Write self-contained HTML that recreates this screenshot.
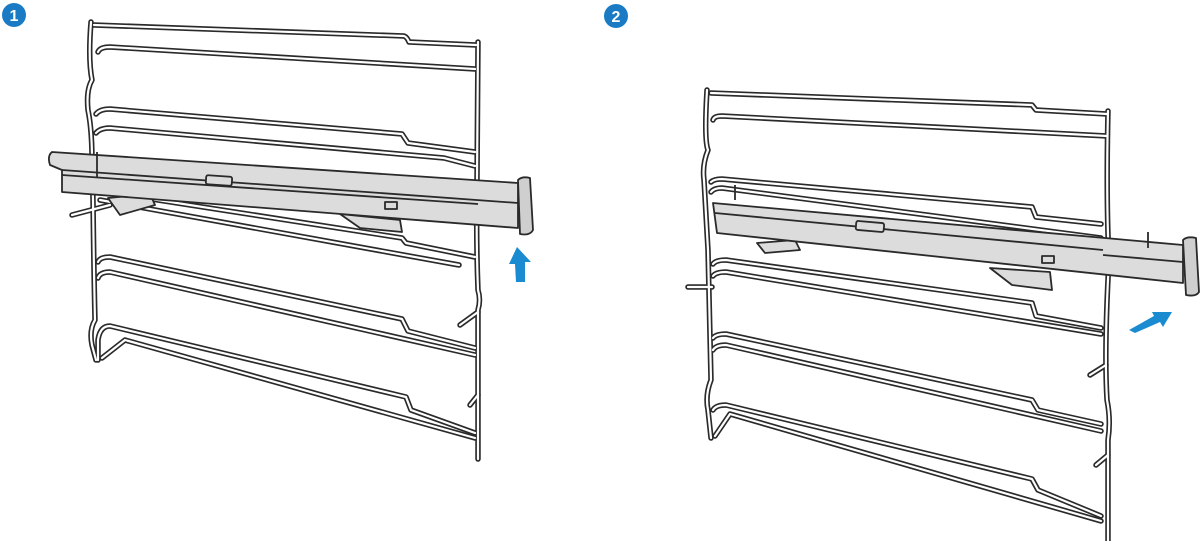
<!DOCTYPE html>
<html><head><style>html,body{margin:0;padding:0;background:#fff;width:1200px;height:541px;overflow:hidden}</style></head>
<body>
<svg width="1200" height="541" viewBox="0 0 1200 541" xmlns="http://www.w3.org/2000/svg">
<defs>
<g id="w1">
<path d="M94,25 L404,36 Q407,37 409,42 L476,45"/>
<path d="M98,52 Q100,47 110,47 L475,69"/>
<path d="M96,114 Q100,109 110,109 L402,134 L408,143 L475,152"/>
<path d="M96,133 Q100,128 110,128 L444,158 L475,166"/>
<path d="M100,191 L402,238 L406,243 L475,257"/>
<path d="M100,200 L459,265"/>
<path d="M98,262 Q100,257 110,257 L402,319 L408,331 L475,348"/>
<path d="M98,278 Q100,272 110,272 L475,355"/>
<path d="M98,360 L98,340 Q100,326 110,326 L406,397 L411,410 L475,433"/>
<path d="M102,358 L125,340 L475,438"/>
<path d="M91,22 Q88,60 92,80 Q86,90 88,110 Q92,130 92,160 L93,200 Q94,280 95,320 Q89,330 92,345 L96,360"/>
<path d="M478,42 L477,180 Q476,240 478,290 Q481,300 478,310 L478,459"/>
<path d="M72,215 L110,205"/>
<path d="M460,325 L478,312"/>
<path d="M470,405 L478,395"/>
</g>
<g id="w2">
<path d="M711,93 L1032,105 L1036,110 L1107,114"/>
<path d="M713,120 Q714,116 722,116 L1107,136"/>
<path d="M711,182 Q714,179 722,179 L1032,207 L1036,217 L1101,224"/>
<path d="M711,192 Q714,188 722,188 L1101,238"/>
<path d="M713,264 Q716,260 726,260 L1032,303 L1036,316 L1101,328"/>
<path d="M713,276 Q716,272 726,272 L1101,334"/>
<path d="M713,338 Q716,334 726,334 L1032,400 L1038,410 L1101,424"/>
<path d="M713,350 Q716,345 726,345 L1101,431"/>
<path d="M713,410 Q716,405 726,405 L1032,479 L1038,490 L1101,516"/>
<path d="M715,436 L730,414 L1101,521"/>
<path d="M707,90 Q704,140 708,150 Q702,165 704,180 L708,250 Q710,330 711,380 Q705,395 708,410 L711,438"/>
<path d="M1108,111 Q1106,200 1109,260 Q1104,350 1107,400 Q1111,420 1108,440 L1108,541"/>
<path d="M688,287 L712,287"/>
<path d="M1090,375 L1106,365"/>
<path d="M1096,465 L1108,455"/>
</g>
</defs>
<g fill="none" stroke-linecap="round" stroke-linejoin="round">
<use href="#w1" stroke="#2a2a2a" stroke-width="5.5"/>
<use href="#w1" stroke="#fff" stroke-width="2.2"/>
<use href="#w2" stroke="#2a2a2a" stroke-width="5.5"/>
<use href="#w2" stroke="#fff" stroke-width="2.2"/>
</g>
<!-- bar 1 -->
<g stroke="#2a2a2a" stroke-width="1.8" stroke-linejoin="round">
<path d="M108,198 L150,194 L155,205 L120,215 Z" fill="#dcdcdc"/>
<path d="M340,214 L400,220 L402,232 L360,228 Z" fill="#dcdcdc"/>
<path d="M52,152 L518,183 L518,228 L62,192 L62,170 L50,165 Q47,156 52,152 Z" fill="#dcdcdc"/>
<path d="M62,170 L518,203" fill="none"/>
<path d="M62,175 L478,204" fill="none"/>
<rect x="206" y="176" width="26" height="9" rx="2" fill="#dcdcdc" transform="rotate(4 219 180)"/>
<rect x="385" y="202" width="12" height="7" fill="#dcdcdc"/>
<path d="M518,180 Q522,176 530,178 L533,230 Q530,236 520,234 Z" fill="#cfcfcf"/>
<line x1="97" y1="152" x2="97" y2="178"/>
</g>
<!-- bar 2 -->
<g stroke="#2a2a2a" stroke-width="1.8" stroke-linejoin="round">
<path d="M757,243 L795,240 L800,250 L765,253 Z" fill="#dcdcdc"/>
<path d="M990,268 L1050,272 L1052,290 L1012,285 Z" fill="#dcdcdc"/>
<path d="M713,203 L1183,245 L1183,283 L717,233 Z" fill="#dcdcdc"/>
<path d="M715,213 L1103,250" fill="none"/>
<path d="M1103,255 L1183,262" fill="none"/>
<rect x="856" y="222" width="28" height="9" rx="2" fill="#dcdcdc" transform="rotate(5 870 226)"/>
<rect x="1042" y="256" width="12" height="7" fill="#dcdcdc"/>
<path d="M1183,240 Q1187,236 1196,238 L1199,292 Q1196,297 1186,295 Z" fill="#cfcfcf"/>
<line x1="1148" y1="232" x2="1148" y2="248"/>
<line x1="735" y1="185" x2="735" y2="200"/>
</g>
<!-- arrows -->
<path d="M517,247 L531,262 L525,262 L525,282 L516,282 L515,264 L509,264 Z" fill="#1a8bd0"/>
<path d="M1172,312 L1163,327 L1160,322 L1135,333 L1129,330 L1154,316 L1152,312 Z" fill="#1a8bd0"/>
<circle cx="14" cy="15" r="12" fill="#1a7bc4"/>
<text x="14" y="21" text-anchor="middle" font-family="Liberation Sans, sans-serif" font-weight="bold" font-size="16" fill="#fff">1</text>
<circle cx="616" cy="16" r="12" fill="#1a7bc4"/>
<text x="616" y="22" text-anchor="middle" font-family="Liberation Sans, sans-serif" font-weight="bold" font-size="16" fill="#fff">2</text>
</svg>
</body></html>
